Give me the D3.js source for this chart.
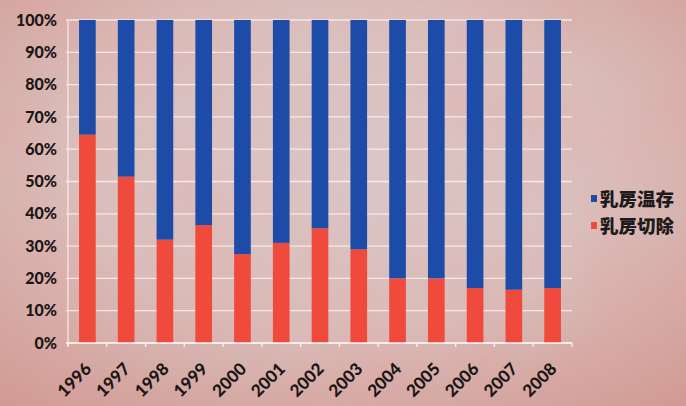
<!DOCTYPE html>
<html><head><meta charset="utf-8">
<script src="https://cdn.jsdelivr.net/npm/d3@7"></script>
<style>
html,body{margin:0;padding:0;background:#d9b2ad;}
svg{display:block;}
</style></head>
<body>
<svg id="chart" width="686" height="406"></svg>
<script>
const years = ["1996","1997","1998","1999","2000","2001","2002","2003","2004","2005","2006","2007","2008"];
const mastectomy = [64.5, 51.5, 32, 36.5, 27.5, 31, 35.5, 29, 20, 20, 17, 16.5, 17];   // 乳房切除 (red)
const conserving = [35.5, 48.5, 68, 63.5, 72.5, 69, 64.5, 71, 80, 80, 83, 83.5, 83];   // 乳房温存 (blue)
const yTicks = [0,10,20,30,40,50,60,70,80,90,100];
const seriesNames = ["乳房切除","乳房温存"];
const seriesColors = ["#ef4a3b","#1c4ba8"];

const svg = d3.select("#chart");
const W = 686, H = 406;
const defs = svg.append("defs");
const rg = defs.append("radialGradient").attr("id","bg").attr("cx","50%").attr("cy","40%").attr("r","80%");
rg.append("stop").attr("offset","0%").attr("stop-color","#dccaca");
rg.append("stop").attr("offset","50%").attr("stop-color","#dbbfbc");
rg.append("stop").attr("offset","100%").attr("stop-color","#d2978f");
const f = defs.append("filter").attr("id","noise").attr("x",0).attr("y",0).attr("width","100%").attr("height","100%");
f.append("feTurbulence").attr("type","fractalNoise").attr("baseFrequency","0.9").attr("numOctaves",2).attr("seed",3).attr("result","t");
f.append("feColorMatrix").attr("in","t").attr("type","matrix")
 .attr("values","0 0 0 0 0.55  0 0 0 0 0.35  0 0 0 0 0.35  0 0 0 0.22 0");
const f2 = defs.append("filter").attr("id","blot").attr("x",0).attr("y",0).attr("width","100%").attr("height","100%");
f2.append("feTurbulence").attr("type","fractalNoise").attr("baseFrequency","0.012").attr("numOctaves",2).attr("seed",7).attr("result","t");
f2.append("feColorMatrix").attr("in","t").attr("type","matrix")
 .attr("values","0 0 0 0 0.8  0 0 0 0 0.35  0 0 0 0 0.35  0 0 0 0.9 -0.35");
svg.append("rect").attr("width",W).attr("height",H).attr("fill","url(#bg)");
svg.append("rect").attr("width",W).attr("height",H).attr("filter","url(#blot)").attr("opacity",0.5);
svg.append("rect").attr("width",W).attr("height",H).attr("filter","url(#noise)").attr("opacity",0.6);

const x = d3.scaleBand().domain(years).range([68,572]).paddingInner(0.57).paddingOuter(0.285);
const y = d3.scaleLinear().domain([0,100]).range([343,20]);

// gridlines
svg.append("g").selectAll("line").data(yTicks).join("line")
  .attr("x1",66).attr("x2",572).attr("y1",d=>y(d)).attr("y2",d=>y(d))
  .attr("stroke","#fbf1ee").attr("stroke-width",1.3).attr("opacity",0.85);
svg.append("line").attr("x1",68).attr("x2",68).attr("y1",y(100)).attr("y2",y(0)+3)
  .attr("stroke","#fbf1ee").attr("stroke-width",1.3).attr("opacity",0.85);

const table = years.map((yr,i)=>({year:yr,"乳房切除":mastectomy[i],"乳房温存":conserving[i]}));
const stack = d3.stack().keys(seriesNames)(table);
svg.append("g").selectAll("g").data(stack).join("g")
  .attr("fill",(d,i)=>seriesColors[i])
  .selectAll("rect").data(d=>d).join("rect")
  .attr("x",d=>x(d.data.year)).attr("width",x.bandwidth())
  .attr("y",d=>y(d[1])).attr("height",d=>y(d[0])-y(d[1]));

// x axis
const xAxis = svg.append("g").attr("transform",`translate(0,${y(0)})`);
xAxis.append("line").attr("x1",66).attr("x2",572).attr("stroke","#fbf1ee").attr("stroke-width",1.5);
const step = x.step();
xAxis.selectAll(".tk").data(d3.range(years.length+1)).join("line")
  .attr("x1",i=>68+i*step).attr("x2",i=>68+i*step).attr("y1",0).attr("y2",4)
  .attr("stroke","#fbf1ee").attr("stroke-width",1.3);
xAxis.selectAll("text").data(years).join("text")
  .attr("transform",d=>`translate(${x(d)+x.bandwidth()/2+5},${27}) rotate(-45)`)
  .attr("text-anchor","end")
  .attr("font-family","Lato, 'DejaVu Sans', sans-serif").attr("font-weight",900).attr("font-size",17)
  .attr("fill","#1b1616").text(d=>d);

// y axis labels
svg.append("g").selectAll("text").data(yTicks).join("text")
  .attr("x",57).attr("y",d=>y(d)).attr("dy","0.35em").attr("text-anchor","end")
  .attr("font-family","Lato, 'DejaVu Sans', sans-serif").attr("font-weight",900).attr("font-size",16)
  .attr("fill","#1b1616").text(d=>d+"%");

// legend
const legendItems = [{name:seriesNames[1],color:seriesColors[1]},{name:seriesNames[0],color:seriesColors[0]}];
const lg = svg.append("g").selectAll("g").data(legendItems).join("g")
  .attr("transform",(d,i)=>`translate(591,${199+i*27})`);
lg.append("rect").attr("x",0).attr("y",-4).attr("width",6).attr("height",7).attr("fill",d=>d.color);
lg.append("text").attr("x",9).attr("dy","0.36em")
  .attr("font-family","'Noto Sans CJK JP', sans-serif").attr("font-weight",900).attr("font-size",18.5)
  .attr("fill","#1e1a1a").text(d=>d.name);
</script>
</body></html>
